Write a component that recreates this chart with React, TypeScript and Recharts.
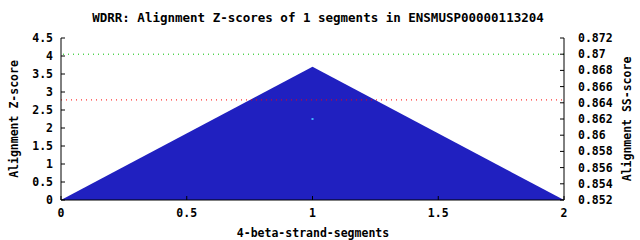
import { ComposedChart, Area, Scatter, XAxis, YAxis, ReferenceLine, Customized } from 'recharts';

// segment positions and alignment Z-scores
const segPos = [0, 1, 2];
const zScores = [0, 3.7, 0];

// SS-score point
const ssPos = [1];
const ssScores = [0.862];

const xTicks = [0, 0.5, 1, 1.5, 2];
const zTicks = [0, 0.5, 1, 1.5, 2, 2.5, 3, 3.5, 4, 4.5];
const ssTicks = [0.852, 0.854, 0.856, 0.858, 0.86, 0.862, 0.864, 0.866, 0.868, 0.87, 0.872];

const zThreshold = 2.78;
const ssThreshold = 0.87;

const data = segPos.map((x, i) => ({ x, z: zScores[i] }));
const ssData = ssPos.map((x, i) => ({ x, ss: ssScores[i] }));

const FONT = '"DejaVu Sans Mono", "Liberation Mono", monospace';
const textStyle = { fontFamily: FONT, fontWeight: 'bold' as const, fontSize: 11.5, fill: '#000' };

const LeftTick = (props: any) => {
  const { x, y, payload } = props;
  return (
    <g>
      <line x1={x} x2={x + 4} y1={y} y2={y} stroke="#000" />
      <text x={x - 8} y={y} dy={4} textAnchor="end" style={textStyle}>{payload.value}</text>
    </g>
  );
};

const RightTick = (props: any) => {
  const { x, y, payload } = props;
  return (
    <g>
      <line x1={x - 4} x2={x} y1={y} y2={y} stroke="#000" />
      <text x={x + 14} y={y} dy={4} textAnchor="start" style={textStyle}>{payload.value}</text>
    </g>
  );
};

const BottomTick = (props: any) => {
  const { x, y, payload } = props;
  return (
    <g>
      <line x1={x} x2={x} y1={y - 4} y2={y} stroke="#000" />
      <text x={x} y={y + 17} textAnchor="middle" style={textStyle}>{payload.value}</text>
    </g>
  );
};

const TopTick = (props: any) => {
  const { x, y } = props;
  return <line x1={x} x2={x} y1={y} y2={y + 4} stroke="#000" />;
};

const Labels = () => (
  <g>
    <text x={318} y={22} textAnchor="middle" style={{ ...textStyle, fontSize: 12.5 }}>
      WDRR: Alignment Z-scores of 1 segments in ENSMUSP00000113204
    </text>
    <text x={313} y={237} textAnchor="middle" style={textStyle}>4-beta-strand-segments</text>
    <text transform="translate(18,119) rotate(-90)" textAnchor="middle" style={textStyle}>Alignment Z-score</text>
    <text transform="translate(631,119) rotate(-90)" textAnchor="middle" style={textStyle}>Alignment SS-score</text>
  </g>
);

export default function App() {
  return (
    <div style={{ position: 'absolute', left: 0, top: 0, background: '#fff' }}>
      <ComposedChart width={640} height={240} data={data} margin={{ top: 38, right: 0, bottom: 0, left: 0 }}>
        <XAxis
          xAxisId="bottom"
          dataKey="x"
          type="number"
          domain={[0, 2]}
          ticks={xTicks}
          height={40}
          tickSize={0}
          tickMargin={0}
          tickLine={false}
          axisLine={{ stroke: '#000' }}
          tick={<BottomTick />}
          interval={0}
        />
        <XAxis
          xAxisId="top"
          orientation="top"
          dataKey="x"
          type="number"
          domain={[0, 2]}
          ticks={xTicks}
          height={0}
          tickSize={0}
          tickMargin={0}
          tickLine={false}
          axisLine={{ stroke: '#000' }}
          tick={<TopTick />}
          interval={0}
        />
        <YAxis
          yAxisId="z"
          type="number"
          domain={[0, 4.5]}
          ticks={zTicks}
          width={61}
          tickSize={0}
          tickMargin={0}
          tickLine={false}
          axisLine={{ stroke: '#000' }}
          tick={<LeftTick />}
          interval={0}
        />
        <YAxis
          yAxisId="ss"
          orientation="right"
          type="number"
          domain={[0.852, 0.872]}
          ticks={ssTicks}
          width={76}
          tickSize={0}
          tickMargin={0}
          tickLine={false}
          axisLine={{ stroke: '#000' }}
          tick={<RightTick />}
          interval={0}
        />
        <Area
          xAxisId="bottom"
          yAxisId="z"
          type="linear"
          dataKey="z"
          stroke="none"
          fill="#2020c0"
          fillOpacity={1}
          isAnimationActive={false}
          dot={false}
          activeDot={false}
        />
        <Scatter
          xAxisId="bottom"
          yAxisId="ss"
          data={ssData}
          dataKey="ss"
          fill="#40b0ff"
          isAnimationActive={false}
          shape={(p: any) => <rect x={p.cx - 1} y={p.cy - 1} width={2} height={2} fill="#40b0ff" />}
        />
        <ReferenceLine xAxisId="bottom" yAxisId="z" y={zThreshold} stroke="#ff0000" strokeDasharray="1 4" />
        <ReferenceLine xAxisId="bottom" yAxisId="ss" y={ssThreshold} stroke="#00c000" strokeDasharray="1 4" />
        <Customized component={Labels} />
      </ComposedChart>
    </div>
  );
}
